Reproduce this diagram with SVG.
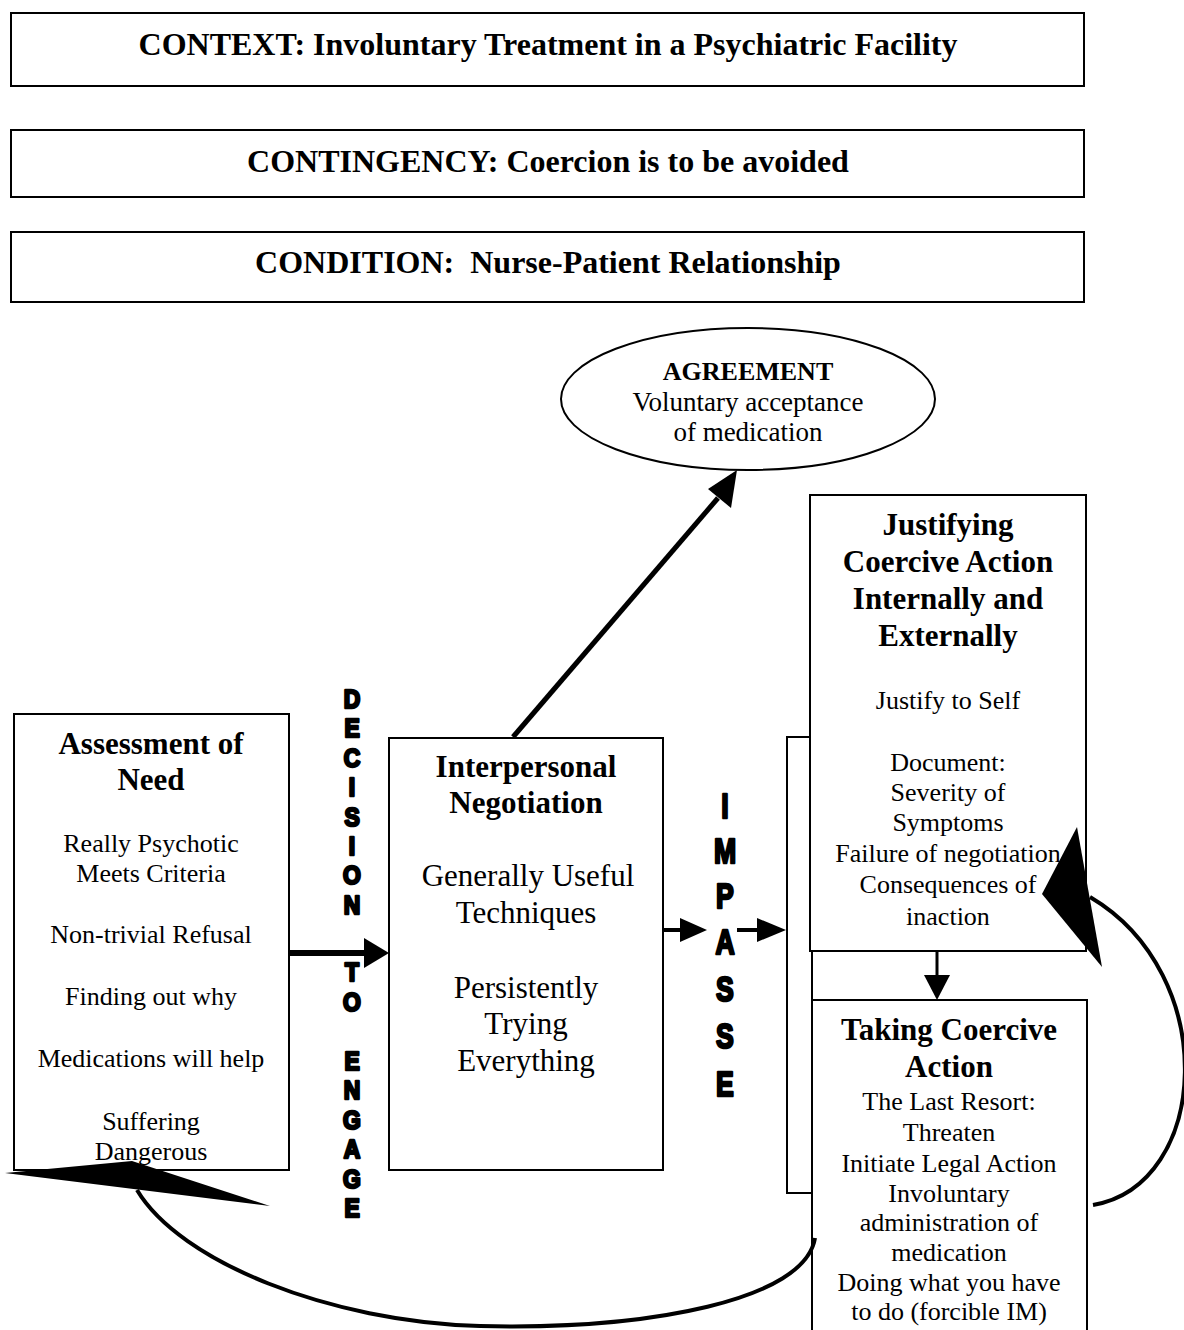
<svg xmlns="http://www.w3.org/2000/svg" width="1184" height="1330" viewBox="0 0 1184 1330">
<style>
.box{fill:#fff;stroke:#000;stroke-width:2}
.t{font-family:"Liberation Serif","Times New Roman",serif;fill:#000;text-anchor:middle}
.b{font-weight:bold}
.hd{font-family:"Liberation Sans",Arial,sans-serif;font-weight:bold;fill:#000;stroke:#000;stroke-width:2.6;stroke-linejoin:round;text-anchor:middle}
.ln{stroke:#000;fill:none}
.ah{fill:#000;stroke:none}
</style>
<rect width="1184" height="1330" fill="#fff"/>

<g id="context">
<rect class="box" x="11" y="13" width="1073" height="73"/>
<text class="t b" x="548" y="55" font-size="32">CONTEXT: Involuntary Treatment in a Psychiatric Facility</text>
</g>
<g id="contingency">
<rect class="box" x="11" y="130" width="1073" height="67"/>
<text class="t b" x="548" y="172" font-size="32">CONTINGENCY: Coercion is to be avoided</text>
</g>
<g id="condition">
<rect class="box" x="11" y="232" width="1073" height="70"/>
<text class="t b" x="548" y="273" font-size="32" xml:space="preserve">CONDITION:  Nurse-Patient Relationship</text>
</g>

<g id="agreement">
<ellipse class="box" cx="748" cy="399" rx="187" ry="71"/>
<text class="t b" x="748" y="380" font-size="26">AGREEMENT</text>
<text class="t" x="748" y="411" font-size="27">Voluntary acceptance</text>
<text class="t" x="748" y="441" font-size="27">of medication</text>
</g>

<g id="assessment">
<rect class="box" x="14" y="714" width="275" height="456"/>
<text class="t b" x="151" y="754" font-size="31">Assessment of</text>
<text class="t b" x="151" y="790" font-size="31">Need</text>
<text class="t" x="151" y="852" font-size="26">Really Psychotic</text>
<text class="t" x="151" y="882" font-size="26">Meets Criteria</text>
<text class="t" x="151" y="943" font-size="26">Non-trivial Refusal</text>
<text class="t" x="151" y="1005" font-size="26">Finding out why</text>
<text class="t" x="151" y="1067" font-size="26">Medications will help</text>
<text class="t" x="151" y="1130" font-size="26">Suffering</text>
<text class="t" x="151" y="1160" font-size="26">Dangerous</text>
</g>

<g id="negotiation">
<rect class="box" x="389" y="738" width="274" height="432"/>
<text class="t b" x="526" y="777" font-size="31">Interpersonal</text>
<text class="t b" x="526" y="813" font-size="31">Negotiation</text>
<text class="t" x="528" y="886" font-size="31">Generally Useful</text>
<text class="t" x="526" y="923" font-size="31">Techniques</text>
<text class="t" x="526" y="998" font-size="31">Persistently</text>
<text class="t" x="526" y="1034" font-size="31">Trying</text>
<text class="t" x="526" y="1071" font-size="31">Everything</text>
</g>

<g id="decision-to-engage">
<g transform="translate(352,0) scale(0.88,1)">
<text class="hd" x="0" y="708" font-size="26">D</text>
<text class="hd" x="0" y="737" font-size="26">E</text>
<text class="hd" x="0" y="767" font-size="26">C</text>
<text class="hd" x="0" y="796" font-size="26">I</text>
<text class="hd" x="0" y="826" font-size="26">S</text>
<text class="hd" x="0" y="855" font-size="26">I</text>
<text class="hd" x="0" y="884" font-size="26">O</text>
<text class="hd" x="0" y="914" font-size="26">N</text>
<text class="hd" x="0" y="981" font-size="26">T</text>
<text class="hd" x="0" y="1011" font-size="26">O</text>
<text class="hd" x="0" y="1070" font-size="26">E</text>
<text class="hd" x="0" y="1099" font-size="26">N</text>
<text class="hd" x="0" y="1129" font-size="26">G</text>
<text class="hd" x="0" y="1158" font-size="26">A</text>
<text class="hd" x="0" y="1188" font-size="26">G</text>
<text class="hd" x="0" y="1217" font-size="26">E</text>
</g>
</g>

<g id="impasse">
<g transform="translate(725,0) scale(0.74,1)">
<text class="hd" x="0" y="818" font-size="36">I</text>
<text class="hd" x="0" y="863" font-size="36">M</text>
<text class="hd" x="0" y="908" font-size="36">P</text>
<text class="hd" x="0" y="954" font-size="36">A</text>
<text class="hd" x="0" y="1001" font-size="36">S</text>
<text class="hd" x="0" y="1048" font-size="36">S</text>
<text class="hd" x="0" y="1096" font-size="36">E</text>
</g>
</g>

<g id="backing">
<rect class="box" x="787" y="737" width="25" height="456"/>
</g>

<g id="justifying">
<rect class="box" x="810" y="495" width="276" height="456"/>
<text class="t b" x="948" y="535" font-size="31">Justifying</text>
<text class="t b" x="948" y="572" font-size="31">Coercive Action</text>
<text class="t b" x="948" y="609" font-size="31">Internally and</text>
<text class="t b" x="948" y="646" font-size="31">Externally</text>
<text class="t" x="948" y="709" font-size="26">Justify to Self</text>
<text class="t" x="948" y="771" font-size="26">Document:</text>
<text class="t" x="948" y="801" font-size="26">Severity of</text>
<text class="t" x="948" y="831" font-size="26">Symptoms</text>
<text class="t" x="948" y="862" font-size="26">Failure of negotiation</text>
<text class="t" x="948" y="893" font-size="26">Consequences of</text>
<text class="t" x="948" y="925" font-size="26">inaction</text>
</g>

<g id="taking">
<rect class="box" x="812" y="1000" width="275" height="345"/>
<text class="t b" x="949" y="1040" font-size="31">Taking Coercive</text>
<text class="t b" x="949" y="1077" font-size="31">Action</text>
<text class="t" x="949" y="1110" font-size="26">The Last Resort:</text>
<text class="t" x="949" y="1141" font-size="26">Threaten</text>
<text class="t" x="949" y="1172" font-size="26">Initiate Legal Action</text>
<text class="t" x="949" y="1202" font-size="26">Involuntary</text>
<text class="t" x="949" y="1231" font-size="26">administration of</text>
<text class="t" x="949" y="1261" font-size="26">medication</text>
<text class="t" x="949" y="1291" font-size="26">Doing what you have</text>
<text class="t" x="949" y="1320" font-size="26">to do (forcible IM)</text>
</g>

<g id="connectors">
<line class="ln" x1="513" y1="737" x2="718" y2="498" stroke-width="5"/>
<polygon class="ah" points="737,470 731,508 708,489"/>
<line class="ln" x1="289" y1="953" x2="368" y2="953" stroke-width="6"/>
<polygon class="ah" points="364,938 389,953 364,968"/>
<line class="ln" x1="663" y1="930" x2="683" y2="930" stroke-width="4"/>
<polygon class="ah" points="680,918 707,930 680,942"/>
<line class="ln" x1="737" y1="930" x2="760" y2="930" stroke-width="4"/>
<polygon class="ah" points="757,918 786,930 757,942"/>
<line class="ln" x1="937" y1="951" x2="937" y2="977" stroke-width="3"/>
<polygon class="ah" points="924,975 950,975 937,1000"/>
<path class="ln" d="M 815 1238 C 805 1300, 650 1330, 480 1326 C 330 1322, 180 1262, 137 1190" stroke-width="4"/>
<polygon class="ah" points="5,1173 132,1161 270,1206"/>
<path class="ln" d="M 1093 1205 C 1210 1185, 1222 975, 1090 897" stroke-width="4"/>
<polygon class="ah" points="1077,827 1102,967 1042,894"/>
</g>
</svg>
